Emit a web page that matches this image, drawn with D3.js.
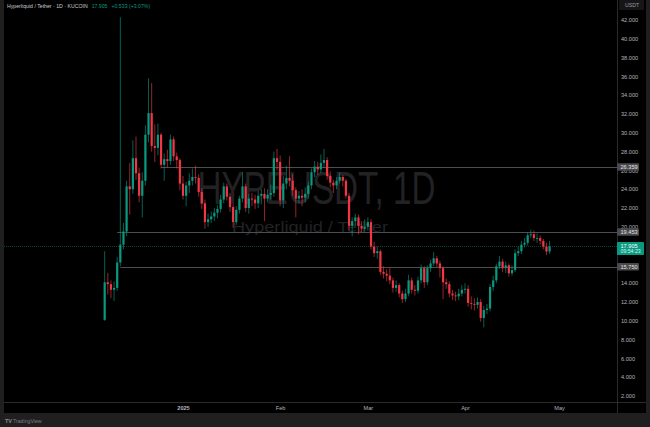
<!DOCTYPE html>
<html><head><meta charset="utf-8">
<script src="https://cdn.jsdelivr.net/npm/d3@7"></script>
<style>html,body{margin:0;padding:0;background:#1f1f1f;overflow:hidden}svg{display:block}</style>
</head><body><svg id="c" width="650" height="427"></svg>
<script>
// ---- data ----
const firstDay = new Date(2024, 11, 7);
const opens = [10.1,14.1,13.9,13.3,13.5,16.2,18.1,19.5,24.3,24.0,27.3,25.7,23.3,24.9,29.8,32.1,28.6,28.4,29.8,26.6,27.2,27.0,29.3,27.5,27.1,24.6,23.3,24.4,24.9,25.3,25.2,23.7,22.5,20.5,20.8,21.1,21.5,21.9,22.9,24.3,23.2,22.1,20.5,21.8,23.0,24.3,22.0,23.0,22.9,22.5,23.3,23.5,23.0,23.4,23.6,27.3,26.9,22.8,24.6,25.2,24.9,23.9,23.0,23.3,23.1,23.5,24.4,25.8,26.4,26.1,26.8,27.1,25.4,24.7,24.4,24.9,25.3,24.9,23.3,20.1,20.6,21.0,20.1,19.8,20.0,20.5,17.9,17.2,17.4,15.2,15.0,14.8,14.3,13.5,13.8,12.9,12.3,12.9,14.3,13.3,13.2,14.3,15.6,14.1,15.6,16.1,16.65,16.1,15.6,14.1,13.9,12.9,12.7,12.6,12.9,13.3,13.4,11.9,11.8,11.7,12.0,10.3,11.15,11.3,13.6,14.3,15.8,16.3,15.6,15.9,15.05,15.4,17.2,17.4,18.1,18.3,19.1,19.2,18.8,18.8,18.5,17.9,17.37];
const highs = [17.4,15.1,14.3,14.2,16.8,42.3,20.4,24.9,26.8,29.2,29.6,26.3,25.8,30.8,35.8,35.3,30.9,31.0,30.0,27.8,28.2,29.8,29.6,27.9,27.3,25.4,24.8,25.7,26.2,26.5,25.6,24.1,22.9,21.4,21.6,22.0,22.3,23.4,24.7,24.6,23.6,22.4,22.2,23.3,25.8,24.6,23.5,23.6,23.4,23.8,24.0,24.1,24.0,24.5,28.0,28.3,27.6,25.4,26.5,27.5,25.6,24.2,23.8,24.0,24.2,24.8,26.2,27.0,26.9,27.7,28.3,27.4,25.9,25.0,25.3,25.8,25.5,25.1,23.6,21.0,21.4,21.3,20.6,20.8,21.0,20.8,18.4,17.9,17.6,15.8,15.5,15.6,14.6,14.3,14.0,13.2,13.4,14.9,14.6,13.8,14.7,16.0,15.8,15.9,16.5,17.3,16.9,16.4,15.8,14.5,14.2,13.3,13.1,13.4,13.8,14.0,13.8,12.6,12.4,12.5,12.3,11.6,11.8,13.9,14.8,16.1,16.9,16.6,16.3,16.1,15.9,17.6,17.9,18.5,18.8,19.4,19.7,19.6,19.3,19.1,18.7,18.3,18.5];
const lows = [10.0,12.8,12.4,12.1,13.2,15.8,17.6,19.0,21.3,23.5,25.0,22.6,21.0,24.4,29.0,28.0,26.9,27.6,26.2,24.9,26.3,26.6,27.0,26.2,23.9,22.9,22.2,23.6,24.4,24.6,23.2,21.9,19.8,20.0,20.4,20.6,20.9,21.5,22.5,22.8,21.6,19.9,20.2,21.4,22.6,21.6,21.4,22.2,21.9,22.0,22.4,20.6,22.6,22.9,23.2,26.0,22.2,22.0,24.0,24.3,23.3,21.0,22.5,22.2,22.6,23.0,24.0,25.3,25.5,25.7,26.3,25.0,24.2,23.6,24.0,24.6,24.3,23.0,19.6,19.0,20.1,19.2,19.4,19.5,19.6,17.6,16.8,16.6,14.9,14.5,14.2,13.9,13.0,13.1,12.5,11.9,12.0,12.6,12.9,12.7,12.9,14.0,13.5,13.8,15.2,15.8,15.7,14.6,12.3,13.4,12.5,12.2,12.1,12.2,12.6,12.9,11.5,11.2,11.1,11.3,9.9,9.3,10.7,11.0,13.2,14.0,15.5,15.2,15.1,14.7,14.8,15.2,16.9,17.1,17.8,18.0,18.8,18.5,18.3,18.1,17.6,17.0,17.1];
const closes = [14.1,13.9,13.3,13.5,16.2,18.1,19.5,24.3,24.0,27.3,25.7,23.3,24.9,29.8,32.1,28.6,28.4,29.8,26.6,27.2,27.0,29.3,27.5,27.1,24.6,23.3,24.4,24.9,25.3,25.2,23.7,22.5,20.5,20.8,21.1,21.5,21.9,22.9,24.3,23.2,22.1,20.5,21.8,23.0,24.3,22.0,23.0,22.9,22.5,23.3,23.5,23.0,23.4,23.6,27.3,26.9,22.8,24.6,25.2,24.9,23.9,23.0,23.3,23.1,23.5,24.4,25.8,26.4,26.1,26.8,27.1,25.4,24.7,24.4,24.9,25.3,24.9,23.3,20.1,20.6,21.0,20.1,19.8,20.0,20.5,17.9,17.2,17.4,15.2,15.0,14.8,14.3,13.5,13.8,12.9,12.3,12.9,14.3,13.3,13.2,14.3,15.6,14.1,15.6,16.1,16.65,16.1,15.6,14.1,13.9,12.9,12.7,12.6,12.9,13.3,13.4,11.9,11.8,11.7,12.0,10.3,11.15,11.3,13.6,14.3,15.8,16.3,15.6,15.9,15.05,15.4,17.2,17.4,18.1,18.3,19.1,19.2,18.8,18.8,18.5,17.9,17.37,17.905];
const levelPrices = [26.359, 19.453, 15.750];
const levelFromIdx = [18, 4, 5];
const lastPrice = 17.905;
const lastLabel = "17.905";
const countdown = "09:54:23";
const changeText = "+0.533 (+3.07%)";
const titleText = "Hyperliquid / Tether · 1D · KUCOIN";
const priceTicks = d3.range(2, 43, 2);
const timeTicks = [new Date(2025,0,1), new Date(2025,1,1), new Date(2025,2,1), new Date(2025,3,1), new Date(2025,4,1)];
const timeLabels = ["2025", "Feb", "Mar", "Apr", "May"];

// ---- layout ----
const W = 650, H = 427;
const paneL = 4, paneR = 617, paneT = 0, paneB = 402, axisR = 646, axisB = 413;
const UP = "#089981", DOWN = "#f23645";
const FONT = "'Liberation Sans', Arial, sans-serif";

const svg = d3.select("#c");
svg.append("rect").attr("width", W).attr("height", H).attr("fill", "#1f1f1f");
svg.append("rect").attr("x", paneL).attr("y", 0).attr("width", axisR - paneL).attr("height", axisB).attr("fill", "#000");

const x = d3.scaleTime().domain([new Date(2025,0,1), new Date(2025,4,1)]).range([183, 559]);
const y = d3.scaleLinear().domain([2, 42]).range([396, 20]);

const candles = closes.map((c, i) => ({
  date: d3.timeDay.offset(firstDay, i), o: opens[i], h: highs[i], l: lows[i], c: c
}));

const pane = svg.append("g");
pane.append("defs").append("clipPath").attr("id", "pc").append("rect")
  .attr("x", paneL).attr("y", paneT).attr("width", paneR - paneL).attr("height", paneB - paneT);
const g = pane.append("g").attr("clip-path", "url(#pc)");

// watermark
const cx = (paneL + paneR) / 2 + 6;
g.append("text").attr("x", cx).attr("y", 204).attr("text-anchor", "middle")
  .attr("font-family", FONT).attr("font-size", 46).attr("fill", "#222224")
  .attr("textLength", 238).attr("lengthAdjust", "spacingAndGlyphs").text("HYPEUSDT, 1D");
g.append("text").attr("x", 310).attr("y", 232).attr("text-anchor", "middle")
  .attr("font-family", FONT).attr("font-size", 15).attr("fill", "#222224")
  .attr("textLength", 156).attr("lengthAdjust", "spacingAndGlyphs").text("Hyperliquid / Tether");

// level lines
levelPrices.forEach((p, k) => {
  g.append("line").attr("x1", x(d3.timeDay.offset(firstDay, levelFromIdx[k]))).attr("x2", paneR)
    .attr("y1", Math.round(y(p)) + 0.5).attr("y2", Math.round(y(p)) + 0.5)
    .attr("stroke", "#4e4e50").attr("stroke-width", 1);
});
// last price line
g.append("line").attr("x1", paneL).attr("x2", paneR)
  .attr("y1", Math.round(y(lastPrice)) + 0.5).attr("y2", Math.round(y(lastPrice)) + 0.5)
  .attr("stroke", UP).attr("stroke-opacity", 0.45).attr("stroke-dasharray", "1,1");

// candles
const bw = 2.2;
const cg = g.append("g");
cg.selectAll("line.w").data(candles).join("line").attr("class", "w")
  .attr("x1", d => x(d.date)).attr("x2", d => x(d.date))
  .attr("y1", d => y(d.h)).attr("y2", d => y(d.l))
  .attr("stroke", d => d.c >= d.o ? UP : DOWN).attr("stroke-width", 0.9).attr("stroke-opacity", 0.7);
cg.selectAll("rect.b").data(candles).join("rect").attr("class", "b")
  .attr("x", d => x(d.date) - bw / 2).attr("width", bw)
  .attr("y", d => y(Math.max(d.o, d.c)))
  .attr("height", d => Math.max(0.8, Math.abs(y(d.o) - y(d.c))))
  .attr("fill", d => d.c >= d.o ? UP : DOWN);

// borders
svg.append("line").attr("x1", paneR + 0.5).attr("x2", paneR + 0.5).attr("y1", 0).attr("y2", axisB).attr("stroke", "#2a2a2c");
svg.append("line").attr("x1", paneL).attr("x2", axisR).attr("y1", paneB + 0.5).attr("y2", paneB + 0.5).attr("stroke", "#2a2a2c");

// price axis
const ya = svg.append("g").attr("transform", `translate(${paneR},0)`)
  .call(d3.axisRight(y).tickValues(priceTicks).tickSize(0).tickPadding(4).tickFormat(d3.format(".3f")));
ya.select(".domain").remove();
ya.selectAll("text").attr("font-family", FONT).attr("font-size", 5.6).attr("fill", "#b2b5be");

// USDT header
svg.append("rect").attr("x", paneR + 2).attr("y", 0).attr("width", axisR - paneR - 4).attr("height", 10).attr("rx", 1).attr("fill", "#161618");
svg.append("text").attr("x", paneR + 8).attr("y", 6.5).attr("font-family", FONT).attr("font-size", 5.2).attr("fill", "#9a9ca3").text("USDT");

// level labels
levelPrices.forEach(p => {
  const yy = y(p);
  svg.append("rect").attr("x", paneR).attr("y", yy - 3.8).attr("width", 22).attr("height", 7.6).attr("rx", 1).attr("fill", "#4a4a4c");
  svg.append("text").attr("x", paneR + 3.5).attr("y", yy + 2).attr("font-family", FONT).attr("font-size", 5.6).attr("fill", "#e0e3eb").text(d3.format(".3f")(p));
});
// last price label
{
  const yy = y(lastPrice);
  svg.append("rect").attr("x", paneR).attr("y", yy - 4.5).attr("width", 27).attr("height", 13).attr("rx", 1).attr("fill", UP);
  svg.append("text").attr("x", paneR + 3.5).attr("y", yy + 1.3).attr("font-family", FONT).attr("font-size", 5.6).attr("fill", "#fff").text(lastLabel);
  svg.append("text").attr("x", paneR + 3.5).attr("y", yy + 7).attr("font-family", FONT).attr("font-size", 5.2).attr("fill", "#dff5ef").text(countdown);
}

// time axis
const xa = svg.append("g").attr("transform", `translate(0,${paneB})`)
  .call(d3.axisBottom(x).tickValues(timeTicks).tickSize(0).tickPadding(4).tickFormat((d, i) => timeLabels[i]));
xa.select(".domain").remove();
xa.selectAll("text").attr("font-family", FONT).attr("font-size", 5.6).attr("fill", "#b2b5be")
  .attr("font-weight", (d, i) => i === 0 ? "bold" : "normal");

// title
const tt = svg.append("text").attr("x", 7).attr("y", 7.5).attr("font-family", FONT).attr("font-size", 5.2);
tt.append("tspan").attr("fill", "#c8cad0").text(titleText);
tt.append("tspan").attr("fill", UP).attr("dx", 4).text(lastLabel);
tt.append("tspan").attr("fill", UP).attr("dx", 4).text(changeText);

// footer logo
svg.append("text").attr("x", 5).attr("y", 423).attr("font-family", FONT).attr("font-size", 5.5).attr("font-weight", "bold").attr("fill", "#8a8c92").text("TV");
svg.append("text").attr("x", 13).attr("y", 423).attr("font-family", FONT).attr("font-size", 5.2).attr("fill", "#7c7e84").text("TradingView");
</script></body></html>
